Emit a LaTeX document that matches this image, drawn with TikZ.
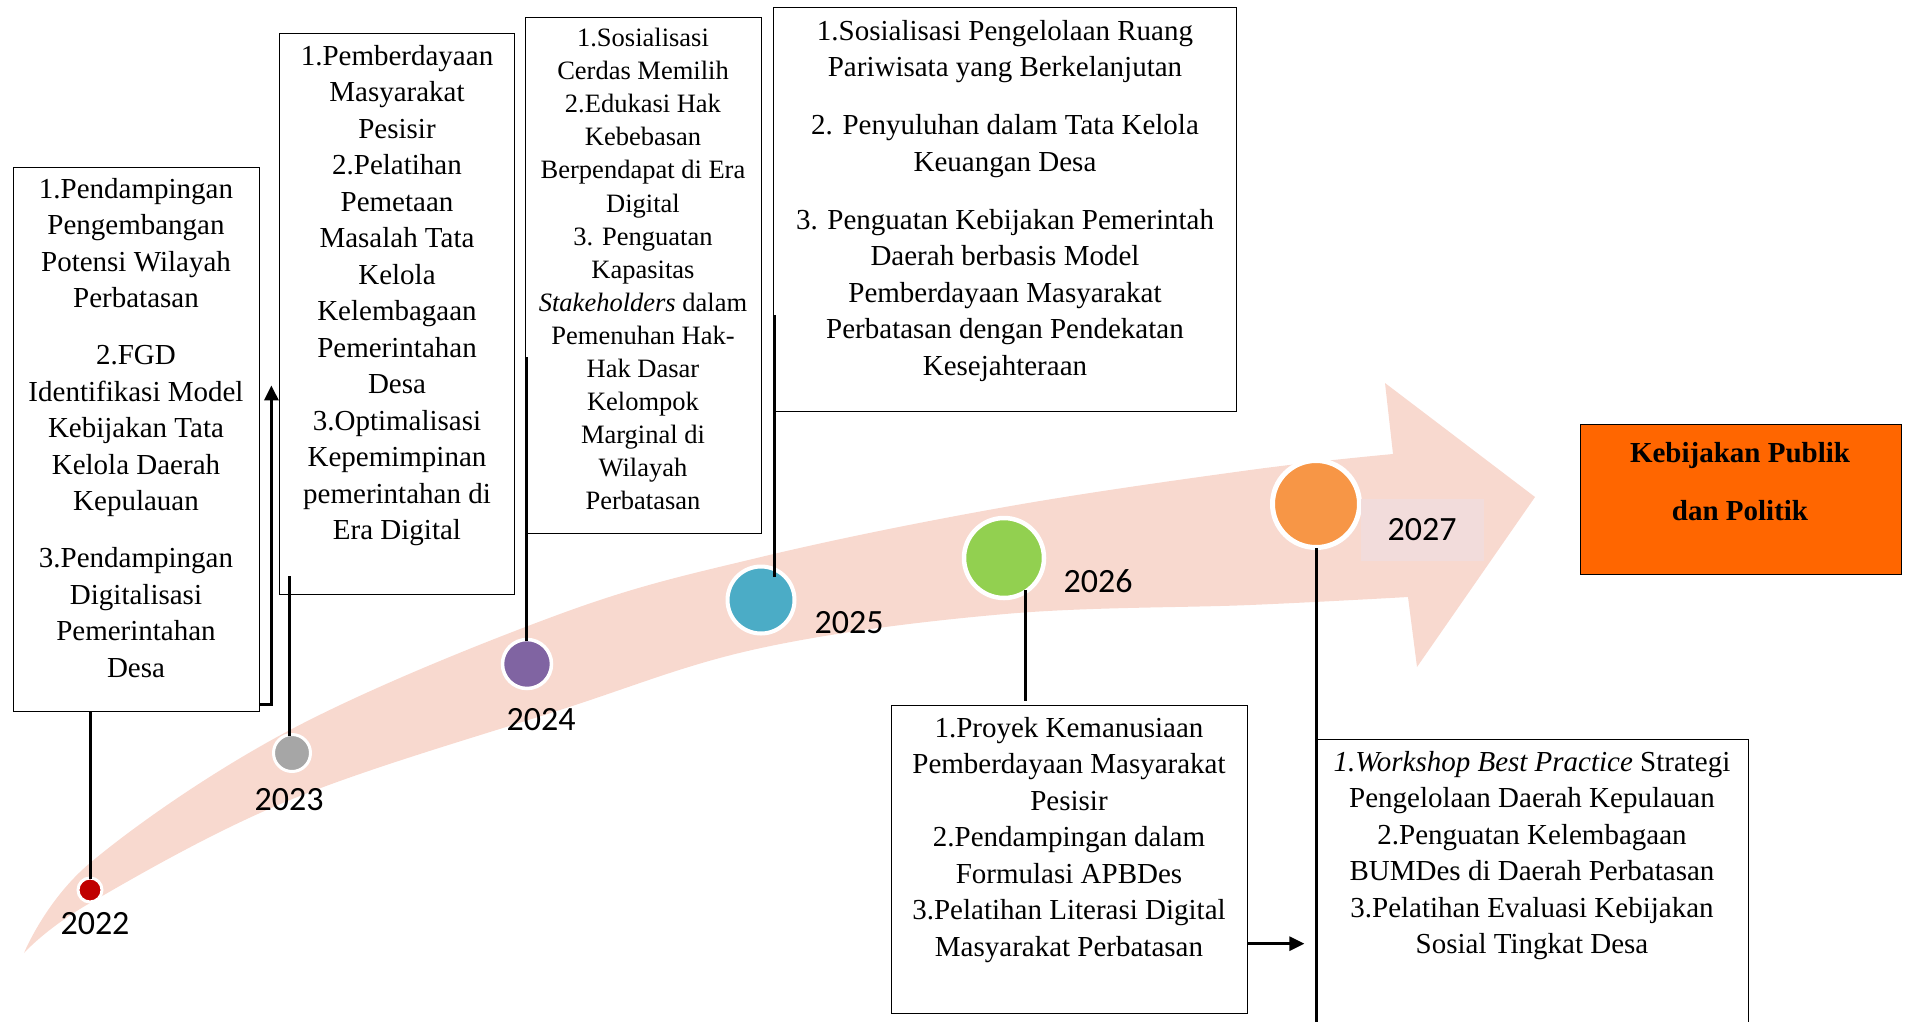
\documentclass[tikz,border=0pt]{standalone}
\usepackage{fontspec}
\setmainfont{Liberation Serif}
\newfontfamily\yearfont{Carlito}
\usetikzlibrary{arrows.meta}
\definecolor{arrowpink}{HTML}{F8D9CF}
\definecolor{yearbg}{HTML}{F2DCDB}
\definecolor{cred}{HTML}{C00000}
\definecolor{cgray}{HTML}{A6A6A6}
\definecolor{cpurple}{HTML}{8064A2}
\definecolor{cteal}{HTML}{4BACC6}
\definecolor{cgreen}{HTML}{92D050}
\definecolor{corange}{HTML}{F79646}
\definecolor{cfinal}{HTML}{FF6600}
\begin{document}
\begin{tikzpicture}[x=1pt,y=-1pt,
  boxframe/.style={draw=black, line width=1.4pt, fill=white, inner sep=0pt, anchor=north west},
  boxtext/.style={anchor=north, align=center, inner sep=0pt, font=\fontsize{29}{36.5}\selectfont},
  conn/.style={line width=3pt, draw=black},
  tip/.style={-{Triangle[length=15pt,width=14pt]}},
  dot/.style={circle, draw=white, inner sep=0pt},
  yearlbl/.style={font=\yearfont\fontsize{34}{40}\selectfont, inner sep=0pt}]
\useasboundingbox (0,0) rectangle (1907,1021);
% big curved arrow
\fill[arrowpink] plot[smooth, tension=0.6] coordinates {(24,953) (90,863) (290,730) (560,614) (761,557) (1005,507) (1250,470) (1393,454)}
  -- (1385,383) -- (1535,497) -- (1417,667) -- (1408,597)
  -- plot[smooth, tension=0.6] coordinates {(1408,597) (1250,605) (1005,614) (761,648) (560,710) (290,800) (90,903) (24,953)} -- cycle;
% boxes
\node[boxframe, minimum width=246, minimum height=544] (b1) at (13,167) {};
\node[boxframe, minimum width=235, minimum height=561] (b2) at (279,33) {};
\node[boxframe, minimum width=236, minimum height=516] (b3) at (525,17) {};
\node[boxframe, minimum width=463, minimum height=404] (b4) at (773,7) {};
\node[boxframe, minimum width=356, minimum height=308] (b5) at (891,705) {};
\node[boxframe, minimum width=432, minimum height=320] (b6) at (1316,739) {};
\node[boxframe, fill=cfinal, minimum width=321, minimum height=150] (fin) at (1580,424) {};
% texts
\node[boxtext] (t1) at (136,178) {1.Pendampingan\\Pengembangan\\Potensi Wilayah\\Perbatasan\\[20.5pt]
2.FGD\\Identifikasi Model\\Kebijakan Tata\\Kelola Daerah\\Kepulauan\\[20.5pt]
3.Pendampingan\\Digitalisasi\\Pemerintahan\\Desa};
\node[boxtext] (t2) at (397,45) {1.Pemberdayaan\\Masyarakat\\Pesisir\\2.Pelatihan\\Pemetaan\\Masalah Tata\\Kelola\\Kelembagaan\\Pemerintahan\\Desa\\3.Optimalisasi\\Kepemimpinan\\pemerintahan di\\Era Digital};
\node[boxtext, font=\fontsize{26.5}{33.1}\selectfont] (t3) at (643,28) {1.Sosialisasi\\Cerdas Memilih\\2.Edukasi Hak\\Kebebasan\\Berpendapat di Era\\Digital\\3. Penguatan\\Kapasitas\\\textit{Stakeholders} dalam\\Pemenuhan Hak-\\Hak Dasar\\Kelompok\\Marginal di\\Wilayah\\Perbatasan};
\node[boxtext] (t4) at (1005,20) {1.Sosialisasi Pengelolaan Ruang\\Pariwisata yang Berkelanjutan\\[21.5pt]
2. Penyuluhan dalam Tata Kelola\\Keuangan Desa\\[21.5pt]
3. Penguatan Kebijakan Pemerintah\\Daerah berbasis Model\\Pemberdayaan Masyarakat\\Perbatasan dengan Pendekatan\\Kesejahteraan};
\node[boxtext] (t5) at (1069,717) {1.Proyek Kemanusiaan\\Pemberdayaan Masyarakat\\Pesisir\\2.Pendampingan dalam\\Formulasi APBDes\\3.Pelatihan Literasi Digital\\Masyarakat Perbatasan};
\node[boxtext] (t6) at (1532,751) {\textit{1.Workshop Best Practice} Strategi\\Pengelolaan Daerah Kepulauan\\2.Penguatan Kelembagaan\\BUMDes di Daerah Perbatasan\\3.Pelatihan Evaluasi Kebijakan\\Sosial Tingkat Desa};
\node[boxtext, font=\bfseries\fontsize{29}{58}\selectfont] (tf) at (1740,442) {Kebijakan Publik\\dan Politik};
% year dots
\node[dot, fill=cred, line width=3pt, minimum size=24] (d22) at (90,890) {};
\node[dot, fill=cgray, line width=3pt, minimum size=37] (d23) at (292,753) {};
\node[dot, fill=cpurple, line width=3.5pt, minimum size=49] (d24) at (527,664) {};
\node[dot, fill=cteal, line width=4pt, minimum size=67] (d25) at (761,600) {};
\node[dot, fill=cgreen, line width=4.5pt, minimum size=80] (d26) at (1004,558) {};
\node[dot, fill=corange, line width=5pt, minimum size=87] (d27) at (1316,504) {};
% year labels
\node[yearlbl] (y22) at (95,924) {2022};
\node[yearlbl] (y23) at (289,800) {2023};
\node[yearlbl] (y24) at (541,720) {2024};
\node[yearlbl] (y25) at (849,623) {2025};
\node[yearlbl] (y26) at (1098,581) {2026};
\node[yearlbl, fill=yearbg, minimum width=123, minimum height=62] (y27) at (1422,530) {2027};
% connectors
\draw[conn] ([yshift=-2pt]d22.north) -- (d22.north |- b1.south);
\draw[conn] ([xshift=-3pt,yshift=-3pt]d23.north) -- ++(0,-160);
\draw[conn] ([xshift=-1pt,yshift=-3pt]d24.north) -- ++(0,-284);
\draw[conn] ([xshift=13pt,yshift=23pt]d25.center) -- ++(0,-262);
\draw[conn] ([xshift=21pt,yshift=-32pt]d26.center) -- ++(0,111);
\draw[conn] ([yshift=2pt]d27.south) -- ++(0,540);
\draw[conn, tip] ([yshift=8pt]b1.south east) -- ++(11,0) -- ++(0,-319);
\draw[conn, tip] ([yshift=-84pt]b5.east) -- ++(56,0);
\end{tikzpicture}
\end{document}
